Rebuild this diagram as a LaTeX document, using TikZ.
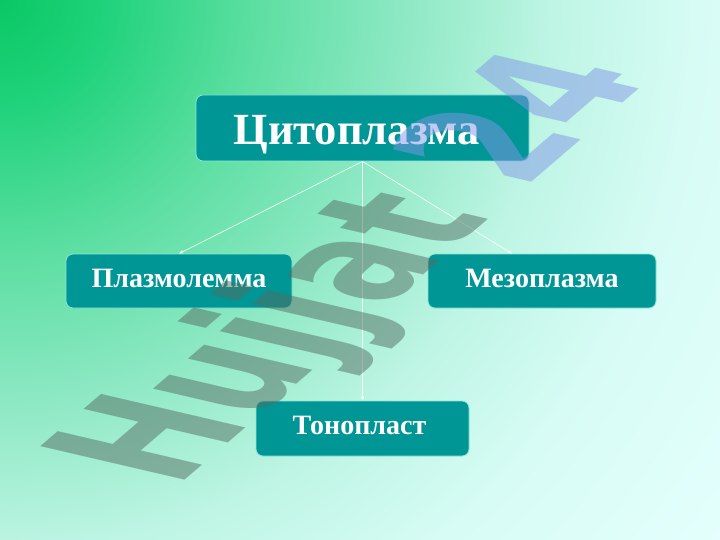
\documentclass[tikz,border=0pt]{standalone}
\usepackage{fontspec}
\setmainfont{Liberation Serif}
\newfontfamily\wmfont{DejaVu Sans}
\usetikzlibrary{arrows.meta,calc}
\definecolor{bg0}{RGB}{10,200,100}
\definecolor{bg1}{RGB}{30,210,122}
\definecolor{bg2}{RGB}{90,222,160}
\definecolor{bg3}{RGB}{140,232,195}
\definecolor{bg4}{RGB}{190,245,228}
\definecolor{bg5}{RGB}{215,252,245}
\definecolor{bg6}{RGB}{228,255,253}
\definecolor{boxfill}{RGB}{0,150,150}
\definecolor{boxline}{RGB}{140,230,215}
\definecolor{wmgray}{RGB}{85,110,100}
\definecolor{wmblue}{RGB}{130,150,230}
\pgfdeclareradialshading{bgsh}{\pgfpoint{0bp}{0bp}}{color(0bp)=(bg0); color(2.8bp)=(bg1); color(6.9bp)=(bg2); color(11.1bp)=(bg3); color(15.3bp)=(bg4); color(19.4bp)=(bg5); color(25bp)=(bg6); color(50bp)=(bg6)}
\begin{document}
\begin{tikzpicture}[x=1pt,y=-1pt,
  box/.style={draw=boxline, line width=0.8pt, fill=boxfill, rounded corners=7pt, text=white, inner sep=0pt, align=center},
  bigtext/.style={font=\fontsize{44.5}{44}\selectfont\bfseries, text height=34pt, text depth=0pt},
  smalltext/.style={font=\fontsize{28}{28}\selectfont\bfseries, text height=12pt, text depth=0pt},
  conn/.style={draw=white, draw opacity=0.85, line width=0.7pt, -{Stealth[length=4.5pt,width=3.5pt]}}]
\useasboundingbox (0,0) rectangle (720,540);
\begin{scope}
\clip (0,0) rectangle (720,540);
\shade[shading=bgsh] (0,0) circle (900pt);
\end{scope}
\node[box, bigtext, minimum width=333pt, minimum height=66pt] (cyt) at (362.5,128) {Цитоплазма\hspace*{12pt}};
\node[box, smalltext, minimum width=226pt, minimum height=54pt] (pla) at (179,281) {Плазмолемма};
\node[box, smalltext, minimum width=228pt, minimum height=54pt] (mez) at (542,281) {Мезоплазма};
\node[box, smalltext, minimum width=213pt, minimum height=55pt] (ton) at (362.5,428.5) {Тонопласт\hspace*{6pt}};
\coordinate (mezin) at ($(mez.north)+(-30,0)$);
\draw[conn] (cyt.south) -- (pla.north);
\draw[conn] (cyt.south) -- (mezin);
\draw[conn] (cyt.south) -- (ton.north);
\begin{scope}[shift={(175,489)}]
\begin{scope}[cm={9.3,8.0,-19.8,4.6,(0,0)}]
\node[transform shape, anchor=base west, inner sep=0pt, opacity=0.5, font=\wmfont\bfseries\fontsize{10}{12}\selectfont] (wm) at (0,0) {\textcolor{wmgray}{Hujjat} \textcolor{wmblue}{24}};
\end{scope}
\end{scope}
\end{tikzpicture}
\end{document}
